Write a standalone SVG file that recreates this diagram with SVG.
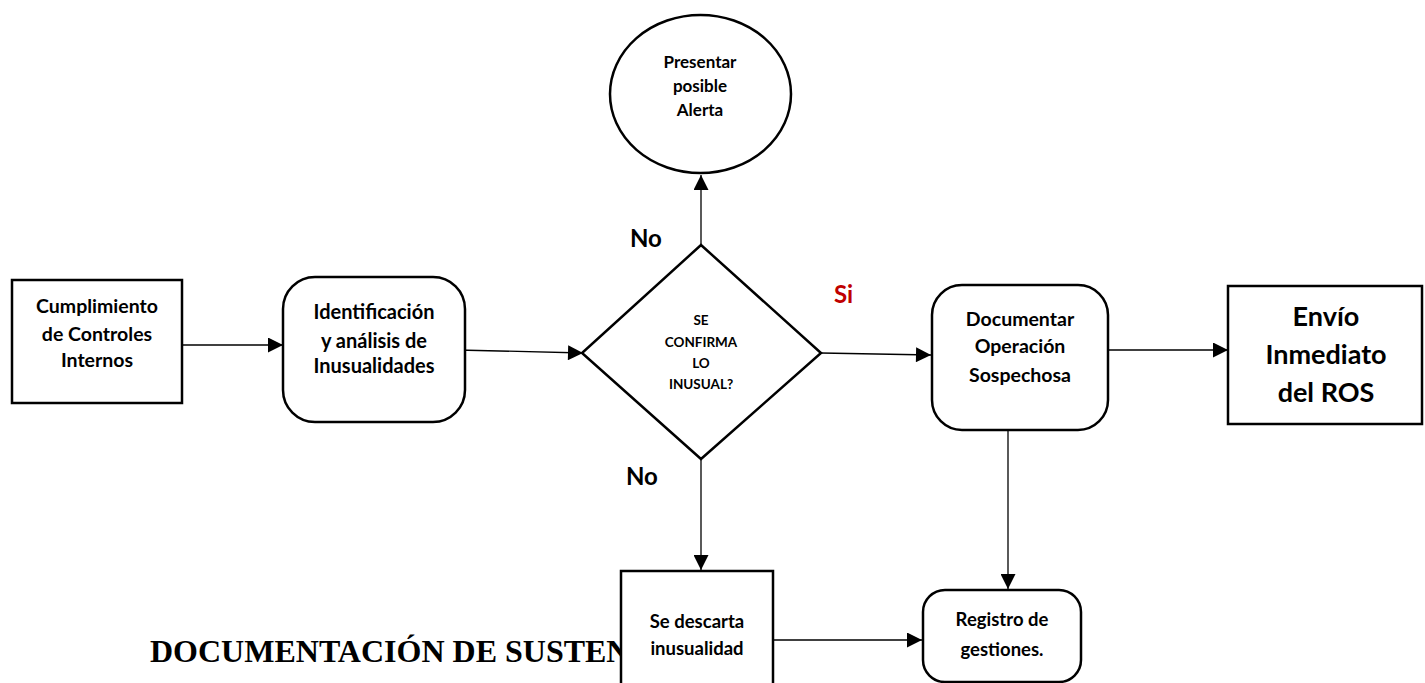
<svg xmlns="http://www.w3.org/2000/svg" width="1425" height="683" viewBox="0 0 1425 683">
<style>
.s{fill:#fff;stroke:#000;stroke-width:2.5}
.t{font-family:Lato,"Open Sans","Liberation Sans",sans-serif;font-weight:bold;fill:#000;text-anchor:middle}
.c{stroke:#000;stroke-width:1.3;fill:none;marker-end:url(#a)}
.l{font-family:Lato,"Liberation Sans",sans-serif;font-weight:bold;font-size:24px}
</style>
<defs>
<marker id="a" viewBox="0 0 10 10" refX="10" refY="5" markerWidth="17" markerHeight="15" markerUnits="userSpaceOnUse" orient="auto"><path d="M0,0L10,5L0,10z" fill="#000"/></marker>
<clipPath id="cl"><rect x="0" y="600" width="620" height="83"/></clipPath>
</defs>
<rect width="1425" height="683" fill="#fff"/>
<text x="150" y="662" font-family="Liberation Serif,serif" font-weight="bold" font-size="32" clip-path="url(#cl)">DOCUMENTACIÓN DE SUSTEN</text>
<g id="connectors">
<line class="c" x1="182" y1="345" x2="283" y2="345"/>
<line class="c" x1="457" y1="350" x2="583" y2="353"/>
<line class="c" x1="701" y1="245" x2="701" y2="175"/>
<line class="c" x1="821" y1="353" x2="931" y2="355"/>
<line class="c" x1="1108" y1="350" x2="1228" y2="350"/>
<line class="c" x1="1008" y1="430" x2="1008" y2="589"/>
<line class="c" x1="701" y1="459" x2="701" y2="570"/>
<line class="c" x1="773" y1="640" x2="922" y2="640"/>
</g>
<g id="labels">
<text class="l" x="630" y="247">No</text>
<text class="l" x="626" y="485">No</text>
<text class="l" x="834" y="303" font-size="22" fill="#c00000">Si</text>
</g>
<g id="n1"><rect class="s" x="12" y="280" width="170" height="123"/>
<text class="t" font-size="19.5"><tspan x="97" y="313">Cumplimiento</tspan><tspan x="97" y="341">de Controles</tspan><tspan x="97" y="367">Internos</tspan></text></g>
<g id="n2"><rect class="s" x="283" y="277" width="182" height="145" rx="32"/>
<text class="t" font-size="20"><tspan x="374" y="319">Identificación</tspan><tspan x="374" y="348">y análisis de</tspan><tspan x="374" y="373">Inusualidades</tspan></text></g>
<g id="n3"><polygon class="s" points="701,245 821,353 701,459 582,353"/>
<text class="t" font-size="13.5"><tspan x="701" y="325">SE</tspan><tspan x="701" y="347">CONFIRMA</tspan><tspan x="701" y="368">LO</tspan><tspan x="701" y="389">INUSUAL?</tspan></text></g>
<g id="n4"><ellipse class="s" cx="700.5" cy="94" rx="90.5" ry="79"/>
<text class="t" font-size="17"><tspan x="700" y="68">Presentar</tspan><tspan x="700" y="92">posible</tspan><tspan x="700" y="116">Alerta</tspan></text></g>
<g id="n5"><rect class="s" x="932" y="285" width="176" height="145" rx="30"/>
<text class="t" font-size="19.5"><tspan x="1020" y="326">Documentar</tspan><tspan x="1020" y="353">Operación</tspan><tspan x="1020" y="382">Sospechosa</tspan></text></g>
<g id="n6"><rect class="s" x="1228" y="286" width="194" height="138"/>
<text class="t" font-size="27"><tspan x="1326" y="326">Envío</tspan><tspan x="1326" y="364">Inmediato</tspan><tspan x="1326" y="402">del ROS</tspan></text></g>
<g id="n7"><rect class="s" x="621" y="571" width="152" height="120"/>
<text class="t" font-size="18.5"><tspan x="697" y="628">Se descarta</tspan><tspan x="697" y="655">inusualidad</tspan></text></g>
<g id="n8"><rect class="s" x="923" y="590" width="158" height="92" rx="22"/>
<text class="t" font-size="18.5"><tspan x="1002" y="626">Registro de</tspan><tspan x="1002" y="656">gestiones.</tspan></text></g>
</svg>
